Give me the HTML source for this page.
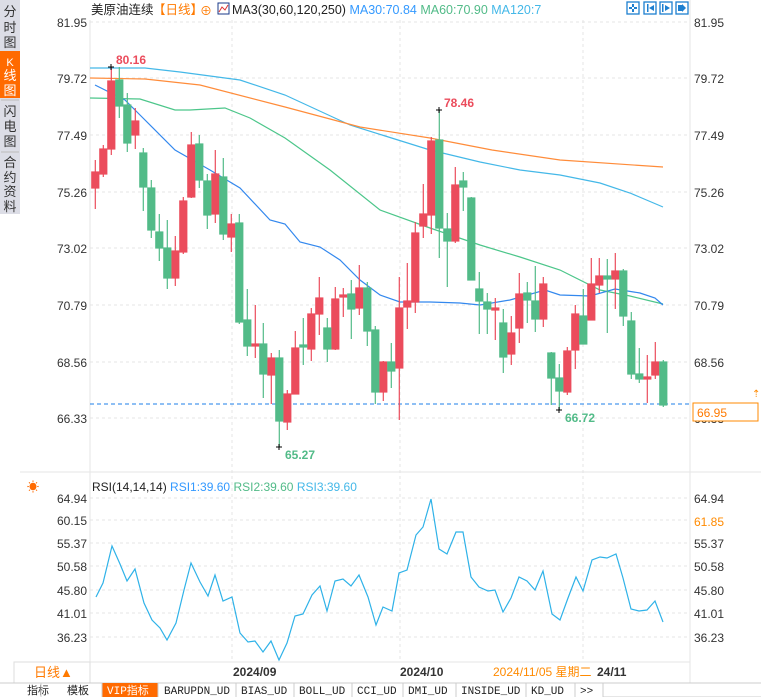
<!DOCTYPE html>
<html><head><meta charset="utf-8"><style>
body{margin:0;width:761px;height:697px;background:#fff;overflow:hidden;font-family:"Liberation Sans","Noto Sans CJK SC",sans-serif;}
svg{position:absolute;left:0;top:0}
</style></head><body>
<svg width="761" height="697" xmlns="http://www.w3.org/2000/svg" font-family="Liberation Sans, Noto Sans CJK SC, sans-serif">
<!-- sidebar -->
<rect x="0" y="0" width="20" height="214" fill="#dcdde6"/>
<rect x="0" y="51" width="20" height="47" fill="#ff6a00"/>
<g font-size="13" fill="#333" text-anchor="middle">
<text x="10" y="16">分</text><text x="10" y="32">时</text><text x="10" y="47">图</text>
<text x="10" y="66" fill="#fff" font-size="11">K</text><text x="10" y="80" fill="#fff">线</text><text x="10" y="95" fill="#fff">图</text>
<text x="10" y="116">闪</text><text x="10" y="131">电</text><text x="10" y="146">图</text>
<text x="10" y="167">合</text><text x="10" y="182">约</text><text x="10" y="196">资</text><text x="10" y="211">料</text>
</g>
<line x1="1" y1="100" x2="19" y2="100" stroke="#bbb"/><line x1="1" y1="152" x2="19" y2="152" stroke="#bbb"/>
<!-- frame -->
<line x1="90" y1="20" x2="90" y2="662" stroke="#e6e6e6"/>
<line x1="690" y1="0" x2="690" y2="683" stroke="#e6e6e6"/>
<line x1="20" y1="472" x2="761" y2="472" stroke="#e6e6e6"/>
<line x1="20" y1="662" x2="690" y2="662" stroke="#e6e6e6"/>
<!-- grid -->
<g stroke="#e4e4e4" stroke-dasharray="3,3">
<line x1="90" y1="22" x2="690" y2="22"/><line x1="90" y1="78" x2="690" y2="78"/><line x1="90" y1="135" x2="690" y2="135"/><line x1="90" y1="192" x2="690" y2="192"/><line x1="90" y1="248" x2="690" y2="248"/><line x1="90" y1="305" x2="690" y2="305"/><line x1="90" y1="362" x2="690" y2="362"/><line x1="90" y1="418" x2="690" y2="418"/>
<line x1="90" y1="498" x2="690" y2="498"/><line x1="90" y1="520" x2="690" y2="520"/><line x1="90" y1="543" x2="690" y2="543"/><line x1="90" y1="566" x2="690" y2="566"/><line x1="90" y1="590" x2="690" y2="590"/><line x1="90" y1="613" x2="690" y2="613"/><line x1="90" y1="637" x2="690" y2="637"/>
<line x1="232" y1="20" x2="232" y2="662"/><line x1="400" y1="20" x2="400" y2="662"/><line x1="583" y1="20" x2="583" y2="662"/>
</g>
<!-- axis labels -->
<g font-size="12" fill="#333">
<g text-anchor="end">
<text x="87" y="27">81.95</text><text x="87" y="83">79.72</text><text x="87" y="140">77.49</text><text x="87" y="197">75.26</text><text x="87" y="253">73.02</text><text x="87" y="310">70.79</text><text x="87" y="367">68.56</text><text x="87" y="423">66.33</text>
<text x="87" y="503">64.94</text><text x="87" y="525">60.15</text><text x="87" y="548">55.37</text><text x="87" y="571">50.58</text><text x="87" y="595">45.80</text><text x="87" y="618">41.01</text><text x="87" y="642">36.23</text>
</g>
<text x="694" y="27">81.95</text><text x="694" y="83">79.72</text><text x="694" y="140">77.49</text><text x="694" y="197">75.26</text><text x="694" y="253">73.02</text><text x="694" y="310">70.79</text><text x="694" y="367">68.56</text><text x="694" y="423">66.33</text>
<text x="694" y="503">64.94</text><text x="694" y="526" fill="#ff8a00">61.85</text><text x="694" y="548">55.37</text><text x="694" y="571">50.58</text><text x="694" y="595">45.80</text><text x="694" y="618">41.01</text><text x="694" y="642">36.23</text>
</g>
<!-- header -->
<text x="91" y="14" font-size="12.5" fill="#222">美原油连续</text>
<text x="153" y="14" font-size="12.5" fill="#ff7a00">【日线】</text>
<text x="200" y="15" font-size="12" fill="#ff7a00">⊕</text>
<rect x="218" y="3" width="11" height="11" fill="#fff" stroke="#1a3a8a"/><polyline points="219,12 222,7 225,10 228,5" fill="none" stroke="#d33" stroke-width="1"/>
<text x="232" y="14" font-size="12.5" fill="#222">MA3(30,60,120,250) <tspan fill="#3399ff">MA30:70.84</tspan> <tspan fill="#52bb88">MA60:70.90</tspan> <tspan fill="#44b8e8">MA120:7</tspan></text>
<g fill="none" stroke="#1d7fd0" stroke-width="1.3">
<rect x="627" y="2" width="12" height="12"/><rect x="644" y="2" width="12" height="12"/><rect x="660" y="2" width="12" height="12"/><rect x="676" y="2" width="12" height="12"/>
</g>
<g fill="#1d7fd0"><rect x="632" y="4" width="2" height="3"/><rect x="632" y="9" width="2" height="3"/><rect x="629" y="7" width="3" height="2"/><rect x="634" y="7" width="3" height="2"/>
<rect x="647" y="4" width="1.5" height="8"/><polygon points="649,8 654,5 654,11"/><rect x="662" y="4" width="1.5" height="8"/><polygon points="665,5 670,8 665,11"/><rect x="678" y="5" width="4" height="6"/><polygon points="682,4 686,8 682,12"/></g>
<!-- MAs -->
<g fill="none" stroke-width="1.2">
<polyline stroke="#44b8e8" points="90,68 145,68 180,72 240,80 285,95 350,125 430,150 480,162 520,170 560,175 600,183 630,193 663,207"/>
<polyline stroke="#ff8c3a" points="90,78 145,79 200,85 285,107 360,127 430,138 492,150 560,160 663,167"/>
<polyline stroke="#4cc68a" points="90,98 140,99 175,110 190,110 225,108 250,118 285,138 330,170 380,210 430,228 480,245 520,257 560,270 600,290 630,296 663,304"/>
<polyline stroke="#3388ee" points="95,85 125,100 140,115 175,150 210,170 240,188 270,220 285,224 300,242 320,247 340,260 360,280 380,295 400,302 430,302 460,303 480,305 510,300 545,290 560,295 590,296 615,289 640,293 655,298 663,305"/>
</g>
<line x1="90" y1="404" x2="690" y2="404" stroke="#1e7fe8" stroke-dasharray="4,3"/>
<!-- candles -->
<g stroke-width="1.2">
<g stroke="#eb4c5c" fill="#eb4c5c">
<line x1="95.3" y1="160" x2="95.3" y2="209"/><rect x="91.8" y="172" width="7" height="16"/>
<line x1="103.3" y1="145" x2="103.3" y2="177"/><rect x="99.8" y="149" width="7" height="25"/>
<line x1="111.3" y1="67" x2="111.3" y2="155"/><rect x="107.8" y="81" width="7" height="68"/>
<line x1="135.3" y1="108" x2="135.3" y2="149"/><rect x="131.8" y="121" width="7" height="14"/>
<line x1="175.3" y1="236" x2="175.3" y2="286"/><rect x="171.8" y="251" width="7" height="27"/>
<line x1="183.3" y1="197" x2="183.3" y2="254"/><rect x="179.8" y="201" width="7" height="51"/>
<line x1="191.3" y1="132" x2="191.3" y2="198"/><rect x="187.8" y="145" width="7" height="52"/>
<line x1="215.3" y1="150" x2="215.3" y2="223"/><rect x="211.8" y="174" width="7" height="40"/>
<line x1="231.3" y1="214" x2="231.3" y2="252"/><rect x="227.8" y="224" width="7" height="13"/>
<line x1="255.3" y1="305" x2="255.3" y2="358"/><rect x="251.8" y="344" width="7" height="2"/>
<line x1="271.3" y1="353" x2="271.3" y2="404"/><rect x="267.8" y="358" width="7" height="17"/>
<line x1="287.3" y1="390" x2="287.3" y2="430"/><rect x="283.8" y="394" width="7" height="28"/>
<line x1="295.3" y1="331" x2="295.3" y2="394"/><rect x="291.8" y="348" width="7" height="46"/>
<line x1="311.3" y1="308" x2="311.3" y2="361"/><rect x="307.8" y="314" width="7" height="35"/>
<line x1="319.3" y1="277" x2="319.3" y2="335"/><rect x="315.8" y="298" width="7" height="16"/>
<line x1="335.3" y1="287" x2="335.3" y2="350"/><rect x="331.8" y="299" width="7" height="50"/>
<line x1="343.3" y1="288" x2="343.3" y2="317"/><rect x="339.8" y="295" width="7" height="2"/>
<line x1="359.3" y1="265" x2="359.3" y2="315"/><rect x="355.8" y="288" width="7" height="20"/>
<line x1="383.3" y1="361" x2="383.3" y2="401"/><rect x="379.8" y="362" width="7" height="30"/>
<line x1="399.3" y1="277" x2="399.3" y2="420"/><rect x="395.8" y="308" width="7" height="60"/>
<line x1="407.3" y1="263" x2="407.3" y2="329"/><rect x="403.8" y="301" width="7" height="6"/>
<line x1="415.3" y1="222" x2="415.3" y2="313"/><rect x="411.8" y="233" width="7" height="69"/>
<line x1="423.3" y1="184" x2="423.3" y2="238"/><rect x="419.8" y="214" width="7" height="12"/>
<line x1="431.3" y1="137" x2="431.3" y2="234"/><rect x="427.8" y="141" width="7" height="74"/>
<line x1="455.3" y1="167" x2="455.3" y2="243"/><rect x="451.8" y="185" width="7" height="56"/>
<line x1="495.3" y1="298" x2="495.3" y2="340"/><rect x="491.8" y="308" width="7" height="2"/>
<line x1="511.3" y1="316" x2="511.3" y2="365"/><rect x="507.8" y="333" width="7" height="21"/>
<line x1="519.3" y1="273" x2="519.3" y2="343"/><rect x="515.8" y="294" width="7" height="34"/>
<line x1="543.3" y1="277" x2="543.3" y2="327"/><rect x="539.8" y="284" width="7" height="35"/>
<line x1="567.3" y1="347" x2="567.3" y2="395"/><rect x="563.8" y="351" width="7" height="41"/>
<line x1="575.3" y1="305" x2="575.3" y2="369"/><rect x="571.8" y="314" width="7" height="36"/>
<line x1="591.3" y1="258" x2="591.3" y2="320"/><rect x="587.8" y="284" width="7" height="36"/>
<line x1="599.3" y1="258" x2="599.3" y2="293"/><rect x="595.8" y="276" width="7" height="9"/>
<line x1="615.3" y1="253" x2="615.3" y2="309"/><rect x="611.8" y="271" width="7" height="8"/>
<line x1="647.3" y1="355" x2="647.3" y2="403"/><rect x="643.8" y="377" width="7" height="2"/>
<line x1="655.3" y1="342" x2="655.3" y2="379"/><rect x="651.8" y="362" width="7" height="13"/>
</g>
<g stroke="#52bb88" fill="#52bb88">
<line x1="119.3" y1="67" x2="119.3" y2="118"/><rect x="115.8" y="80" width="7" height="26"/>
<line x1="127.3" y1="93" x2="127.3" y2="152"/><rect x="123.8" y="105" width="7" height="38"/>
<line x1="143.3" y1="148" x2="143.3" y2="211"/><rect x="139.8" y="153" width="7" height="34"/>
<line x1="151.3" y1="180" x2="151.3" y2="238"/><rect x="147.8" y="188" width="7" height="42"/>
<line x1="159.3" y1="214" x2="159.3" y2="261"/><rect x="155.8" y="232" width="7" height="16"/>
<line x1="167.3" y1="220" x2="167.3" y2="289"/><rect x="163.8" y="248" width="7" height="30"/>
<line x1="199.3" y1="135" x2="199.3" y2="188"/><rect x="195.8" y="144" width="7" height="36"/>
<line x1="207.3" y1="174" x2="207.3" y2="229"/><rect x="203.8" y="181" width="7" height="34"/>
<line x1="223.3" y1="158" x2="223.3" y2="240"/><rect x="219.8" y="177" width="7" height="57"/>
<line x1="239.3" y1="214" x2="239.3" y2="324"/><rect x="235.8" y="223" width="7" height="99"/>
<line x1="247.3" y1="289" x2="247.3" y2="356"/><rect x="243.8" y="320" width="7" height="26"/>
<line x1="263.3" y1="323" x2="263.3" y2="398"/><rect x="259.8" y="344" width="7" height="30"/>
<line x1="279.3" y1="350" x2="279.3" y2="447"/><rect x="275.8" y="358" width="7" height="63"/>
<line x1="303.3" y1="318" x2="303.3" y2="365"/><rect x="299.8" y="345" width="7" height="2"/>
<line x1="327.3" y1="318" x2="327.3" y2="362"/><rect x="323.8" y="328" width="7" height="21"/>
<line x1="351.3" y1="280" x2="351.3" y2="339"/><rect x="347.8" y="294" width="7" height="15"/>
<line x1="367.3" y1="282" x2="367.3" y2="346"/><rect x="363.8" y="288" width="7" height="43"/>
<line x1="375.3" y1="326" x2="375.3" y2="404"/><rect x="371.8" y="330" width="7" height="62"/>
<line x1="391.3" y1="343" x2="391.3" y2="388"/><rect x="387.8" y="362" width="7" height="9"/>
<line x1="439.3" y1="110" x2="439.3" y2="258"/><rect x="435.8" y="140" width="7" height="88"/>
<line x1="447.3" y1="213" x2="447.3" y2="287"/><rect x="443.8" y="229" width="7" height="12"/>
<line x1="463.3" y1="172" x2="463.3" y2="211"/><rect x="459.8" y="181" width="7" height="6"/>
<line x1="471.3" y1="197" x2="471.3" y2="280"/><rect x="467.8" y="198" width="7" height="82"/>
<line x1="479.3" y1="272" x2="479.3" y2="334"/><rect x="475.8" y="289" width="7" height="12"/>
<line x1="487.3" y1="293" x2="487.3" y2="334"/><rect x="483.8" y="302" width="7" height="7"/>
<line x1="503.3" y1="309" x2="503.3" y2="373"/><rect x="499.8" y="323" width="7" height="34"/>
<line x1="527.3" y1="282" x2="527.3" y2="323"/><rect x="523.8" y="293" width="7" height="7"/>
<line x1="535.3" y1="266" x2="535.3" y2="332"/><rect x="531.8" y="301" width="7" height="18"/>
<line x1="551.3" y1="352" x2="551.3" y2="405"/><rect x="547.8" y="353" width="7" height="25"/>
<line x1="559.3" y1="364" x2="559.3" y2="410"/><rect x="555.8" y="378" width="7" height="13"/>
<line x1="583.3" y1="289" x2="583.3" y2="344"/><rect x="579.8" y="316" width="7" height="28"/>
<line x1="607.3" y1="259" x2="607.3" y2="333"/><rect x="603.8" y="276" width="7" height="3"/>
<line x1="623.3" y1="269" x2="623.3" y2="326"/><rect x="619.8" y="271" width="7" height="45"/>
<line x1="631.3" y1="312" x2="631.3" y2="379"/><rect x="627.8" y="321" width="7" height="53"/>
<line x1="639.3" y1="348" x2="639.3" y2="383"/><rect x="635.8" y="374" width="7" height="5"/>
<line x1="663.3" y1="360" x2="663.3" y2="407"/><rect x="659.8" y="362" width="7" height="43"/>
</g>
</g>
<!-- annotations -->
<g font-size="12" font-weight="bold">
<text x="116" y="64" fill="#eb4c5c">80.16</text>
<text x="444" y="107" fill="#eb4c5c">78.46</text>
<text x="285" y="459" fill="#52bb88">65.27</text>
<text x="565" y="422" fill="#52bb88">66.72</text>
</g>
<g stroke="#000" stroke-width="1"><line x1="108" y1="67" x2="114" y2="67"/><line x1="111" y1="64" x2="111" y2="70"/>
<line x1="436" y1="110" x2="442" y2="110"/><line x1="439" y1="107" x2="439" y2="113"/>
<line x1="276" y1="447" x2="282" y2="447"/><line x1="279" y1="444" x2="279" y2="450"/>
<line x1="556" y1="410" x2="562" y2="410"/><line x1="559" y1="407" x2="559" y2="413"/></g>
<!-- price box -->
<rect x="693" y="403" width="65" height="18" fill="#fff" stroke="#ff8a00"/>
<text x="697" y="417" font-size="12" fill="#ff7a00">66.95</text>
<text x="752" y="397" font-size="10" fill="#ff8a00">⇡</text>
<!-- RSI -->
<text x="27" y="491" font-size="12" fill="#ff6a00">☀</text>
<text x="92" y="491" font-size="12" fill="#222">RSI(14,14,14) <tspan fill="#3399ff">RSI1:39.60</tspan> <tspan fill="#52bb88">RSI2:39.60</tspan> <tspan fill="#44b8e8">RSI3:39.60</tspan></text>
<polyline fill="none" stroke="#2fb2e8" stroke-width="1.2" points="96,597 103,583 112,546 120,564 127,581 135,569 144,603 152,620 160,628 167,640 176,623 184,590 191,563 200,582 208,596 215,575 223,601 232,597 240,633 248,642 255,641 263,652 271,641 279,660 287,643 295,616 303,614 312,595 320,586 327,611 335,581 343,579 351,586 359,575 368,597 376,625 383,607 392,611 399,573 407,570 416,535 423,527 431,499 439,549 447,554 456,532 463,532 471,577 479,587 488,591 495,590 503,612 511,598 519,577 527,581 535,590 543,571 552,614 560,620 568,598 576,577 583,591 592,560 600,557 607,558 616,554 623,578 631,609 639,611 647,610 655,601 663,622"/>
<!-- bottom -->
<rect x="14" y="662" width="76" height="21" fill="#fff" stroke="#ddd"/>
<text x="34" y="677" font-size="13" fill="#ff7a00">日线▲</text>
<g font-size="12" font-weight="bold" fill="#333">
<text x="233" y="676">2024/09</text><text x="400" y="676">2024/10</text><text x="597" y="676">24/11</text>
</g>
<text x="493" y="676" font-size="12" fill="#ff8a00">2024/11/05 星期二</text>
<rect x="0" y="683" width="761" height="14" fill="#fff"/>
<line x1="0" y1="683" x2="761" y2="683" stroke="#ccc"/>
<g font-size="11" fill="#222" font-family="Liberation Mono, Noto Sans CJK SC, monospace">
<text x="27" y="694">指标</text><text x="67" y="694">模板</text>
<rect x="102" y="683" width="56" height="14" fill="#ff6a00"/><text x="107" y="694" fill="#fff">VIP指标</text>
<text x="164" y="694">BARUPDN_UD</text><text x="241" y="694">BIAS_UD</text><text x="299" y="694">BOLL_UD</text><text x="357" y="694">CCI_UD</text><text x="408" y="694">DMI_UD</text><text x="461" y="694">INSIDE_UD</text><text x="531" y="694">KD_UD</text><text x="580" y="694">&gt;&gt;</text>
</g>
<g stroke="#ccc"><line x1="41" y1="683" x2="41" y2="697"/><line x1="102" y1="683" x2="102" y2="697"/><line x1="158" y1="683" x2="158" y2="697"/><line x1="236" y1="683" x2="236" y2="697"/><line x1="294" y1="683" x2="294" y2="697"/><line x1="352" y1="683" x2="352" y2="697"/><line x1="403" y1="683" x2="403" y2="697"/><line x1="456" y1="683" x2="456" y2="697"/><line x1="526" y1="683" x2="526" y2="697"/><line x1="575" y1="683" x2="575" y2="697"/><line x1="603" y1="683" x2="603" y2="697"/><line x1="603" y1="697" x2="761" y2="697"/></g>
</svg>
</body></html>
